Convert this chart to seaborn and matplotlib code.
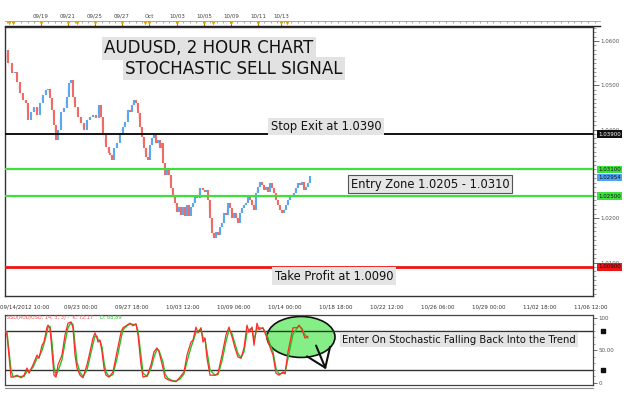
import numpy as np
import pandas as pd
import matplotlib
matplotlib.use("Agg")
import matplotlib.pyplot as plt
import matplotlib.transforms as mtrans
from matplotlib.patches import Ellipse
from matplotlib.ticker import FixedLocator, AutoMinorLocator, MultipleLocator, FixedFormatter
import seaborn as sns

# ---------------- data ----------------
# price path (bar index, close)
price_points = [
    (0, 1.0580), (3, 1.0550), (7, 1.0528), (10, 1.0530), (12, 1.0507), (15, 1.0483), (18, 1.0467),
    (21, 1.0460), (23, 1.0422), (26, 1.0440), (29, 1.0451), (32, 1.0433), (35, 1.0460), (38, 1.0478),
    (41, 1.0489), (43, 1.0492), (45, 1.0471), (47, 1.0444), (49, 1.0410), (51, 1.0376), (53, 1.0399),
    (56, 1.0440), (59, 1.0449), (62, 1.0474), (64, 1.0505), (66, 1.0512), (68, 1.0474), (70, 1.0451),
    (73, 1.0428), (76, 1.0415), (79, 1.0399), (82, 1.0422), (85, 1.0428), (88, 1.0433), (91, 1.0426),
    (94, 1.0455), (96, 1.0428), (98, 1.0388), (101, 1.0361), (104, 1.0347), (105, 1.0343), (107, 1.0331),
    (109, 1.0358), (112, 1.0370), (115, 1.0392), (118, 1.0406), (120, 1.0417), (123, 1.0444), (125, 1.0440),
    (127, 1.0455), (129, 1.0467), (131, 1.0460), (133, 1.0437), (135, 1.0406), (137, 1.0383), (139, 1.0358),
    (141, 1.0338), (143, 1.0331), (145, 1.0365), (147, 1.0381), (149, 1.0388), (151, 1.0370), (153, 1.0376),
    (155, 1.0358), (157, 1.0370), (158, 1.0325), (160, 1.0297), (162, 1.0313), (164, 1.0297), (166, 1.0268),
    (168, 1.0252), (170, 1.0234), (172, 1.0214), (174, 1.0225), (176, 1.0207), (178, 1.0225), (180, 1.0205),
    (182, 1.0230), (184, 1.0205), (186, 1.0225), (188, 1.0234), (190, 1.0252), (192, 1.0246), (195, 1.0268),
    (198, 1.0264), (200, 1.0259), (202, 1.0264), (203, 1.0241), (205, 1.0200), (207, 1.0167), (209, 1.0155),
    (211, 1.0169), (213, 1.0162), (215, 1.0180), (217, 1.0189), (219, 1.0212), (221, 1.0207), (223, 1.0234),
    (225, 1.0223), (227, 1.0200), (229, 1.0212), (231, 1.0200), (233, 1.0189), (235, 1.0212), (237, 1.0223),
    (239, 1.0230), (241, 1.0234), (243, 1.0248), (245, 1.0241), (247, 1.0230), (249, 1.0219), (251, 1.0257),
    (253, 1.0270), (255, 1.0282), (257, 1.0275), (259, 1.0264), (261, 1.0270), (263, 1.0259), (265, 1.0279),
    (267, 1.0268), (269, 1.0257), (271, 1.0241), (273, 1.0230), (275, 1.0219), (277, 1.0212), (279, 1.0219),
    (281, 1.0230), (283, 1.0241), (285, 1.0248), (287, 1.0252), (289, 1.0257), (291, 1.0268), (293, 1.0279),
    (295, 1.0275), (297, 1.0282), (299, 1.0264), (301, 1.0270), (303, 1.0279), (305, 1.0295),
]

# stochastic oscillator (bar index, %K, %D)
stoch_points = [
    (0, 81, 80), (2, 74, 78), (6, 9, 20), (8, 9, 10), (12, 12, 10), (16, 8, 10), (19, 12, 10),
    (22, 23, 18), (24, 15, 18), (28, 28, 24), (32, 43, 38), (34, 38, 40), (37, 58, 50), (39, 63, 60),
    (42, 86, 78), (43, 89, 86), (45, 85, 87), (47, 48, 62), (49, 12, 25), (51, 9, 12), (53, 28, 18),
    (57, 43, 36), (60, 74, 62), (63, 92, 85), (66, 94, 93), (68, 85, 90), (70, 43, 60), (72, 23, 32),
    (75, 12, 16), (78, 8, 10), (82, 28, 20), (85, 48, 40), (88, 69, 60), (90, 77, 72), (92, 69, 72),
    (93, 63, 67), (95, 66, 65), (97, 48, 55), (99, 23, 32), (101, 12, 17), (104, 9, 10), (108, 17, 13),
    (112, 48, 38), (116, 78, 68), (118, 85, 82), (122, 89, 88), (125, 92, 91), (128, 88, 90), (131, 91, 90),
    (133, 74, 80), (136, 28, 42), (138, 9, 15), (142, 11, 10), (146, 28, 22), (149, 48, 40), (152, 54, 52),
    (154, 48, 50), (158, 23, 32), (160, 8, 14), (163, 5, 7), (167, 3, 4), (171, 2, 3), (175, 9, 6),
    (179, 17, 14), (182, 43, 33), (186, 63, 55), (188, 66, 64), (191, 86, 78), (193, 77, 80), (196, 85, 82),
    (198, 63, 70), (200, 69, 68), (202, 38, 48), (205, 12, 20), (210, 12, 12), (213, 15, 13), (217, 43, 34),
    (221, 74, 64), (224, 86, 82), (227, 71, 76), (230, 54, 60), (233, 40, 45), (236, 38, 39), (239, 54, 48),
    (242, 89, 78), (244, 78, 82), (247, 86, 84), (249, 58, 66), (252, 92, 84), (254, 82, 85), (258, 85, 84),
    (262, 69, 74), (265, 55, 60), (268, 43, 48), (271, 15, 22), (274, 12, 14), (278, 17, 15), (280, 14, 15),
    (283, 48, 38), (288, 85, 75), (292, 85, 84), (294, 89, 88), (297, 82, 84), (300, 69, 74), (303, 72, 69),
]

stop_exit = 1.0390
entry_high = 1.0310
entry_low = 1.0250
take_profit = 1.0090
last_price = 1.02954

bottom_tick_bars = [20, 76, 127, 178, 229, 280, 331, 382, 433, 484, 535, 586]
bottom_tick_labels = ["09/14/2012 10:00", "09/23 00:00", "09/27 18:00", "10/03 12:00", "10/09 06:00",
                      "10/14 00:00", "10/18 18:00", "10/22 12:00", "10/26 06:00", "10/29 00:00",
                      "11/02 18:00", "11/06 12:00"]
top_tick_bars = [36, 63, 90, 117, 144, 172, 199, 226, 253, 276]
top_tick_labels = ["09/19", "09/21", "09/25", "09/27", "Oct", "10/03", "10/05", "10/09", "10/11", "10/13"]
marker_bars = [4, 8, 36, 63, 72, 90, 117, 140, 144, 172, 199, 208, 226, 253, 276, 282]

price_df = pd.DataFrame(price_points, columns=["bar", "close"])
stoch_df = pd.DataFrame(stoch_points, columns=["bar", "K", "D"])

# ---------------- style ----------------
sns.set_style("white")
plt.rcParams["font.family"] = ["DejaVu Sans"]

W, H = 624, 393
fig = plt.figure(figsize=(W / 100, H / 100), dpi=100)

def box(x0, y0, x1, y1):
    return [x0 / W, (H - y1) / H, (x1 - x0) / W, (y1 - y0) / H]

ax = fig.add_axes(box(5, 27, 593, 296))
ax_s = fig.add_axes(box(5, 315, 593, 385))
ax_r = fig.add_axes(box(5, 21, 600, 26))

RED = "#f06a66"
BLUE = "#58a8f2"

# ---------------- main price panel ----------------
price_df["open"] = price_df["close"].shift(1)
cdl = price_df.dropna().copy()
cdl["dir"] = np.where(cdl["close"] >= cdl["open"], "up", "down")
cdl["lo"] = cdl[["open", "close"]].min(axis=1)
cdl["hi"] = cdl[["open", "close"]].max(axis=1)
for d, col in [("up", BLUE), ("down", RED)]:
    sub = cdl[cdl["dir"] == d]
    ax.vlines(sub["bar"], sub["lo"], sub["hi"], color=col, lw=1.5, zorder=3)
sns.lineplot(data=price_df, x="bar", y="close", ax=ax, color="#f4b4b4", lw=0.3, zorder=2, alpha=0.6)

ax.axhline(stop_exit, color="#111111", lw=1.4, zorder=4)
ax.axhline(entry_high, color="#3ee03e", lw=1.6, zorder=4)
ax.axhline(entry_low, color="#3ee03e", lw=1.6, zorder=4)
ax.axhline(take_profit, color="#ee1515", lw=2.0, zorder=4)

ax.set_xlim(0, 588)
ax.set_ylim(1.00244, 1.06315)
ax.set_xlabel("")
ax.set_ylabel("")
for s in ax.spines.values():
    s.set_color("#333333")
    s.set_linewidth(1.0)

ax.yaxis.tick_right()
ax.yaxis.set_major_locator(FixedLocator([1.01, 1.02, 1.04, 1.05, 1.06]))
ax.yaxis.set_major_formatter(FixedFormatter(["1.0100", "1.0200", "1.0400", "1.0500", "1.0600"]))
ax.yaxis.set_minor_locator(MultipleLocator(0.001))
ax.tick_params(axis="y", which="major", direction="out", length=4, width=0.6, labelsize=4,
               colors="#555555", pad=1)
ax.tick_params(axis="y", which="minor", direction="out", length=2, width=0.5, colors="#777777")
ax.xaxis.set_major_locator(FixedLocator(bottom_tick_bars))
ax.xaxis.set_major_formatter(FixedFormatter(bottom_tick_labels))
ax.xaxis.set_minor_locator(AutoMinorLocator(5))
ax.tick_params(axis="x", which="major", direction="out", length=4, width=0.6, labelsize=4,
               colors="#444444", pad=2)
ax.tick_params(axis="x", which="minor", direction="out", length=2, width=0.5, colors="#777777")
for lab in ax.get_xticklabels():
    lab.set_color("#333333")

bl = mtrans.blended_transform_factory(ax.transAxes, ax.transData)
price_tags = [(stop_exit, "1.03900", "#111111", "white"),
              (entry_high, "1.03100", "#3ee03e", "#111111"),
              (last_price, "1.02954", "#4fa3f0", "#111111"),
              (entry_low, "1.02500", "#3ee03e", "#111111"),
              (take_profit, "1.00900", "#ee1515", "#111111")]
for val, txt, fc, tc in price_tags:
    yy = val - 0.0004 if txt == "1.02954" else val
    ax.text(1.009, yy, txt, transform=bl, fontsize=4, color=tc, va="center", ha="left",
            bbox=dict(boxstyle="square,pad=0.2", fc=fc, ec="none"), zorder=10, clip_on=False)

title_box = dict(boxstyle="square,pad=0.15", fc="#e2e2e2", ec="none")
ax.text(204, 1.0584, "AUDUSD, 2 HOUR CHART", fontsize=12, ha="center", va="center",
        color="#111111", bbox=title_box, zorder=6)
ax.text(229, 1.0537, "STOCHASTIC SELL SIGNAL", fontsize=12, ha="center", va="center",
        color="#111111", bbox=title_box, zorder=6)
note_box = dict(boxstyle="square,pad=0.2", fc="#e4e4e4", ec="none")
ax.text(321, 1.0407, "Stop Exit at 1.0390", fontsize=8.3, ha="center", va="center",
        color="#111111", bbox=note_box, zorder=6)
ax.text(425, 1.0277, "Entry Zone 1.0205 - 1.0310", fontsize=8.3, ha="center", va="center",
        color="#111111", bbox=dict(boxstyle="square,pad=0.2", fc="#e6e6e6", ec="#555555", lw=0.8),
        zorder=6)
ax.text(329, 1.0069, "Take Profit at 1.0090", fontsize=8.3, ha="center", va="center",
        color="#111111", bbox=note_box, zorder=6)

# ---------------- top ruler ----------------
ax_r.set_xlim(0, 595)
ax_r.set_ylim(0, 1)
ax_r.set_facecolor("white")
for side in ["left", "right"]:
    ax_r.spines[side].set_visible(False)
ax_r.spines["top"].set_color("#999999")
ax_r.spines["top"].set_linewidth(0.6)
ax_r.spines["bottom"].set_color("#222222")
ax_r.spines["bottom"].set_linewidth(1.0)
ax_r.set_yticks([])
ax_r.xaxis.tick_top()
ax_r.xaxis.set_major_locator(FixedLocator(top_tick_bars))
ax_r.xaxis.set_major_formatter(FixedFormatter(top_tick_labels))
ax_r.xaxis.set_minor_locator(AutoMinorLocator(4))
ax_r.tick_params(axis="x", which="major", direction="in", length=4, width=0.6, labelsize=4,
                 colors="#444444", pad=1.5)
ax_r.tick_params(axis="x", which="minor", direction="in", length=1.5, width=0.5, colors="#888888")
ax_r.scatter(marker_bars, [0.55] * len(marker_bars), marker="v", s=7, color="#d9a300",
             zorder=5, clip_on=False, linewidths=0)

# ---------------- stochastic panel ----------------
ax_s.add_patch(Ellipse((296, 70.8), 68, 63, fc="#86ee86", ec="#111111", lw=1.2, zorder=2))
ax_s.axhline(80, color="#333333", lw=1.0, zorder=3)
ax_s.axhline(20, color="#333333", lw=1.0, zorder=3)
sns.lineplot(data=stoch_df, x="bar", y="D", ax=ax_s, color="#22c322", lw=1.0, zorder=4)
sns.lineplot(data=stoch_df, x="bar", y="K", ax=ax_s, color="#ff2a2a", lw=0.9, zorder=5)
ax_s.set_xlim(0, 588)
ax_s.set_ylim(-3.1, 104.6)
ax_s.set_xlabel("")
ax_s.set_ylabel("")
ax_s.set_xticks([])
for s in ax_s.spines.values():
    s.set_color("#444444")
    s.set_linewidth(0.9)
ax_s.yaxis.tick_right()
ax_s.yaxis.set_major_locator(FixedLocator([0, 50, 100]))
ax_s.yaxis.set_major_formatter(FixedFormatter(["0", "50.00", "100"]))
ax_s.yaxis.set_minor_locator(MultipleLocator(10))
ax_s.tick_params(axis="y", which="major", direction="out", length=3, width=0.6, labelsize=4,
                 colors="#555555", pad=1)
ax_s.tick_params(axis="y", which="minor", direction="out", length=1.5, width=0.5, colors="#777777")
bls = mtrans.blended_transform_factory(ax_s.transAxes, ax_s.transData)
ax_s.scatter([1.017, 1.017], [80, 20], marker="s", s=9, color="#111111", transform=bls,
             clip_on=False, zorder=10)

ax_s.text(0.0, 101.5, "-SSD(AUD/USD, 14, 3, 3) -  K: 72.17", fontsize=3.6, color="#f05050",
          ha="left", va="center", zorder=6)
ax_s.text(95, 101.5, "D: 68.89", fontsize=3.6, color="#30c030", ha="left", va="center", zorder=6)

ax_s.annotate("", xy=(322, 17), xytext=(310, 61.5),
              arrowprops=dict(arrowstyle="->,head_length=0.7,head_width=0.5", lw=1.5,
                              color="#111111", mutation_scale=18), zorder=7)
ax_s.text(454, 66, "Enter On Stochastic Falling Back Into the Trend", fontsize=7.2,
          ha="center", va="center", color="#111111",
          bbox=dict(boxstyle="square,pad=0.2", fc="#e4e4e4", ec="none"), zorder=8)

# double bottom line under the oscillator
fig.add_artist(plt.Line2D([5 / W, 593 / W], [(H - 388) / H, (H - 388) / H], color="#888888", lw=0.8))

fig.savefig("out.png", dpi=100)
